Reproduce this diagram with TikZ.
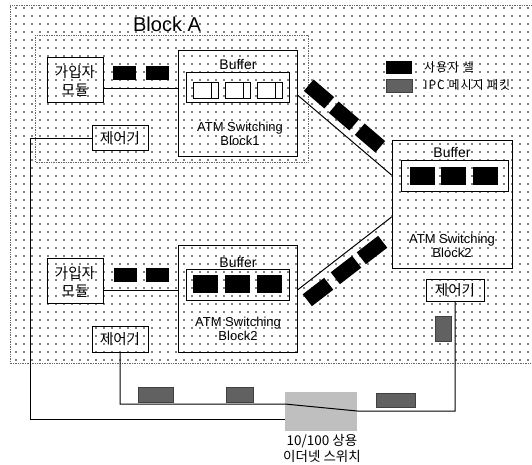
\documentclass[tikz,border=0pt]{standalone}
\usepackage{fontspec}
\setmainfont{Liberation Sans}
\newfontfamily\kr{Noto Sans CJK KR}
\newfontfamily\krsp[LetterSpace=8]{Noto Sans CJK KR}
\usetikzlibrary{patterns.meta}
\begin{document}
\begin{tikzpicture}[x=1pt,y=-1pt,
  box/.style={draw, line width=0.9pt, inner sep=0, rectangle},
  area/.style={pattern={Dots[distance=8pt,radius=0.85pt]}, pattern color=black},
  areaedge/.style={draw=black!60, densely dotted, line width=0.7pt},
  cell/.style={fill=black, inner sep=0, minimum width=25pt, minimum height=17pt},
  mcell/.style={fill=black, inner sep=0, minimum width=23pt, minimum height=14pt},
  dcell/.style={fill=black, inner sep=0, minimum width=27pt, minimum height=15pt},
  hcell/.style={draw, fill=white, line width=0.6pt, inner sep=0, minimum width=25pt, minimum height=16pt},
  ipc/.style={fill=black!62, draw=black!75, line width=0.3pt, inner sep=0},
  wire/.style={line width=1pt},
  krtext/.style={font=\kr\fontsize{14.5}{18}\selectfont, align=center, inner sep=0},
  lbl/.style={font=\fontsize{14}{15}\selectfont, inner sep=0},
  atm/.style={font=\fontsize{13}{14}\selectfont, align=center, inner sep=0},
  legtext/.style={font=\krsp\fontsize{12}{12}\selectfont, inner sep=0, anchor=west}]
\useasboundingbox (0,0) rectangle (532,464);
% dotted background
\path[area] (10,5) rectangle (533,363);
\draw[areaedge] (533,5) -- (10,5) -- (10,363) -- (533,363);
% Block A
\draw[areaedge] (35,35) rectangle (308,162);
\node[font=\fontsize{20}{22}\selectfont, inner sep=0] (blocka) at (167,24) {Block A};

% subscriber modules
\node[box, minimum width=56pt, minimum height=45pt] (mod1) at (75,79.5) {};
\node[krtext] (mod1t) at (75,81) {가입자\\모듈};
\node[box, minimum width=56pt, minimum height=45pt] (mod2) at (75,280.5) {};
\node[krtext] (mod2t) at (75,282) {가입자\\모듈};
\node[mcell] (m1a) at (124.5,73) {};
\node[mcell] (m1b) at (157,73) {};
\node[mcell] (m2a) at (125,275) {};
\node[mcell] (m2b) at (157,275) {};

% controllers
\node[box, minimum width=56pt, minimum height=25pt, krtext] (ctl1) at (120,138) {제어기};
\node[box, minimum width=56pt, minimum height=26pt, krtext] (ctl3) at (120,339) {제어기};
\node[box, minimum width=58pt, minimum height=22pt, krtext] (ctlr) at (455,290.5) {제어기};

% ATM switching block 1
\node[box, minimum width=119pt, minimum height=106pt] (blk1) at (237.5,103) {};
\node[lbl] (buf1) at (238,64) {Buffer};
\node[box, minimum width=103pt, minimum height=30pt] (in1) at (237.5,87) {};
\node[hcell] (h1) at (205.5,90) {};
\node[hcell] (h2) at (237.5,90) {};
\node[hcell] (h3) at (269.5,90) {};
\foreach \c in {h1,h2,h3}
  \draw[line width=0.6pt] ([xshift=6pt]\c.north) -- ([xshift=6pt]\c.south);
\node[atm] (atm1) at (240,133.5) {ATM Switching\\Block1};

% ATM switching block 2 (lower left)
\node[box, minimum width=119pt, minimum height=107pt] (blk3) at (237.5,298.5) {};
\node[lbl] (buf3) at (238,262) {Buffer};
\node[box, minimum width=103pt, minimum height=31pt] (in3) at (237.5,284.5) {};
\node[cell, minimum height=18pt] (c3a) at (205.5,284) {};
\node[cell, minimum height=18pt] (c3b) at (237.5,284) {};
\node[cell, minimum height=18pt] (c3c) at (269.5,284) {};
\node[atm] (atm3) at (238,328.5) {ATM Switching\\Block2};

% ATM switching block 2 (right)
\node[box, minimum width=120pt, minimum height=128pt] (blk2) at (452,204) {};
\node[lbl] (buf2) at (452,152) {Buffer};
\node[box, minimum width=107pt, minimum height=31pt] (in2) at (454.5,175.5) {};
\node[cell, minimum height=18pt] (c2a) at (422,176) {};
\node[cell, minimum height=18pt] (c2b) at (453.5,176) {};
\node[cell, minimum height=18pt] (c2c) at (485.5,176) {};
\node[atm] (atm2) at (452,246) {ATM Switching\\Block2};

% module links
\draw[wire] (mod1.east |- 0,88) -- (blk1.west |- 0,88);
\draw[wire] (mod2.east |- 0,290) -- (blk3.west |- 0,290);
% block links
\draw[wire] (blk1.east |- 0,95) -- (blk2.west |- 0,175);
\draw[wire] (blk3.east |- 0,290) -- (blk2.west |- 0,217);
\node[dcell, rotate=-40.6] (d1) at (319,94) {};
\node[dcell, rotate=-40.6] (d2) at (344,116) {};
\node[dcell, rotate=-40.6] (d3) at (370,138) {};
\node[dcell, rotate=37.6] (e1) at (318,292) {};
\node[dcell, rotate=37.6] (e2) at (346,270) {};
\node[dcell, rotate=37.6] (e3) at (372,250) {};

% legend
\node[fill=black, inner sep=0, minimum width=26pt, minimum height=13pt] (legc) at (399,67.5) {};
\node[legtext] (legct) at (424,67.5) {사용자 셀};
\node[ipc, minimum width=26pt, minimum height=13pt] (legi) at (399,85.5) {};
\node[legtext] (legit) at (424,85.5) {IPC 메시지 패킷};

% Ethernet switch
\node[fill=black!25, inner sep=0, minimum width=72pt, minimum height=39pt] (sw) at (321,411.5) {};
\node[font=\kr\fontsize{13.5}{16}\selectfont, align=center, inner sep=0] (swt) at (322,448) {10/100 상용\\이더넷 스위치};
\coordinate (swin) at (sw.east |- 0,411);
\draw[wire] (ctl1.west) -- ++(-61,0) |- (sw.west |- 0,419);
\draw[wire] (ctl3.south) |- (sw.west |- 0,404) -- (swin) -| (ctlr.south);

% IPC packets
\node[ipc, minimum width=35pt, minimum height=15pt] (p1) at (155.5,394.5) {};
\node[ipc, minimum width=27pt, minimum height=15pt] (p2) at (239.5,394.5) {};
\node[ipc, minimum width=39pt, minimum height=14pt] (p3) at (395.5,400) {};
\node[ipc, minimum width=16pt, minimum height=25pt] (p4) at (443,329) {};
\end{tikzpicture}
\end{document}
